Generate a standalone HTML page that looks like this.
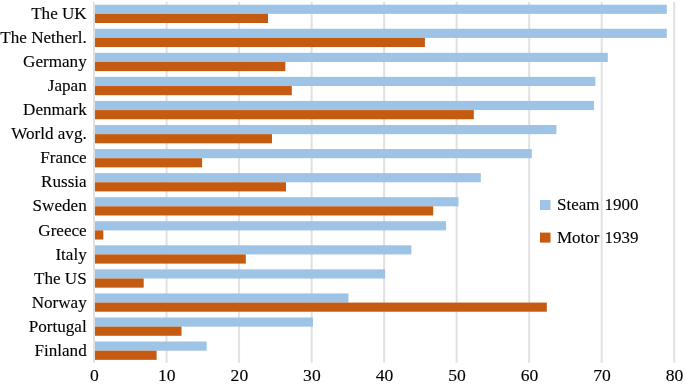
<!DOCTYPE html>
<html><head><meta charset="utf-8"><style>
html,body{margin:0;padding:0;background:#fff;}
body{width:685px;height:386px;position:relative;overflow:hidden;font-family:"Liberation Serif",serif;color:#000;}
svg{position:absolute;left:0;top:0;}
#txt{position:absolute;left:0;top:0;width:685px;height:386px;will-change:transform;-webkit-text-stroke:0.12px #000;}
.l{position:absolute;right:598.3px;height:24px;line-height:24px;font-size:17.1px;white-space:nowrap;text-align:right;}
.t{position:absolute;top:363.9px;width:40px;text-align:center;font-size:17.6px;line-height:22px;}
.lg{position:absolute;left:557px;word-spacing:0.8px;font-size:17px;line-height:20px;white-space:nowrap;}
</style></head><body>
<svg width="685" height="386" viewBox="0 0 685 386"><rect x="93.05" y="1.9" width="2.0" height="360.8" fill="#e1e1e1"/><rect x="165.57" y="1.9" width="2.0" height="360.8" fill="#e1e1e1"/><rect x="238.09" y="1.9" width="2.0" height="360.8" fill="#e1e1e1"/><rect x="310.61" y="1.9" width="2.0" height="360.8" fill="#e1e1e1"/><rect x="383.13" y="1.9" width="2.0" height="360.8" fill="#e1e1e1"/><rect x="455.65" y="1.9" width="2.0" height="360.8" fill="#e1e1e1"/><rect x="528.17" y="1.9" width="2.0" height="360.8" fill="#e1e1e1"/><rect x="600.69" y="1.9" width="2.0" height="360.8" fill="#e1e1e1"/><rect x="673.21" y="1.9" width="2.0" height="360.8" fill="#e1e1e1"/><rect x="95.0" y="4.70" width="571.80" height="9.15" fill="#9dc3e6"/><rect x="95.0" y="13.85" width="173.00" height="9.15" fill="#c55a11"/><rect x="95.0" y="28.76" width="571.80" height="9.15" fill="#9dc3e6"/><rect x="95.0" y="37.91" width="329.90" height="9.15" fill="#c55a11"/><rect x="95.0" y="52.82" width="512.80" height="9.15" fill="#9dc3e6"/><rect x="95.0" y="61.97" width="190.30" height="9.15" fill="#c55a11"/><rect x="95.0" y="76.88" width="500.40" height="9.15" fill="#9dc3e6"/><rect x="95.0" y="86.03" width="196.80" height="9.15" fill="#c55a11"/><rect x="95.0" y="100.94" width="499.10" height="9.15" fill="#9dc3e6"/><rect x="95.0" y="110.09" width="378.80" height="9.15" fill="#c55a11"/><rect x="95.0" y="125.00" width="461.40" height="9.15" fill="#9dc3e6"/><rect x="95.0" y="134.15" width="177.00" height="9.15" fill="#c55a11"/><rect x="95.0" y="149.06" width="436.80" height="9.15" fill="#9dc3e6"/><rect x="95.0" y="158.21" width="107.10" height="9.15" fill="#c55a11"/><rect x="95.0" y="173.12" width="385.80" height="9.15" fill="#9dc3e6"/><rect x="95.0" y="182.27" width="191.00" height="9.15" fill="#c55a11"/><rect x="95.0" y="197.18" width="363.50" height="9.15" fill="#9dc3e6"/><rect x="95.0" y="206.33" width="338.20" height="9.15" fill="#c55a11"/><rect x="95.0" y="221.24" width="351.10" height="9.15" fill="#9dc3e6"/><rect x="95.0" y="230.39" width="8.30" height="9.15" fill="#c55a11"/><rect x="95.0" y="245.30" width="316.40" height="9.15" fill="#9dc3e6"/><rect x="95.0" y="254.45" width="150.80" height="9.15" fill="#c55a11"/><rect x="95.0" y="269.36" width="290.10" height="9.15" fill="#9dc3e6"/><rect x="95.0" y="278.51" width="48.70" height="9.15" fill="#c55a11"/><rect x="95.0" y="293.42" width="253.40" height="9.15" fill="#9dc3e6"/><rect x="95.0" y="302.57" width="451.80" height="9.15" fill="#c55a11"/><rect x="95.0" y="317.48" width="218.00" height="9.15" fill="#9dc3e6"/><rect x="95.0" y="326.63" width="86.50" height="9.15" fill="#c55a11"/><rect x="95.0" y="341.54" width="111.70" height="9.15" fill="#9dc3e6"/><rect x="95.0" y="350.69" width="61.60" height="9.15" fill="#c55a11"/><rect x="540" y="200" width="10.5" height="10" fill="#9dc3e6"/><rect x="540" y="232.6" width="10.5" height="10" fill="#c55a11"/></svg>
<div id="txt">
<div class="l" style="top:2.00px">The UK</div><div class="l" style="top:26.06px">The Netherl.</div><div class="l" style="top:50.12px">Germany</div><div class="l" style="top:74.18px">Japan</div><div class="l" style="top:98.24px">Denmark</div><div class="l" style="top:122.30px">World avg.</div><div class="l" style="top:146.36px">France</div><div class="l" style="top:170.42px">Russia</div><div class="l" style="top:194.48px">Sweden</div><div class="l" style="top:218.54px">Greece</div><div class="l" style="top:242.60px">Italy</div><div class="l" style="top:266.66px">The US</div><div class="l" style="top:290.72px">Norway</div><div class="l" style="top:314.78px">Portugal</div><div class="l" style="top:338.84px">Finland</div><div class="t" style="left:74.35px">0</div><div class="t" style="left:146.87px">10</div><div class="t" style="left:219.39px">20</div><div class="t" style="left:291.91px">30</div><div class="t" style="left:364.43px">40</div><div class="t" style="left:436.95px">50</div><div class="t" style="left:509.47px">60</div><div class="t" style="left:581.99px">70</div><div class="t" style="left:654.51px">80</div>
<div class="lg" style="top:195.0px">Steam 1900</div>
<div class="lg" style="top:227.9px">Motor 1939</div>
</div>
</body></html>
